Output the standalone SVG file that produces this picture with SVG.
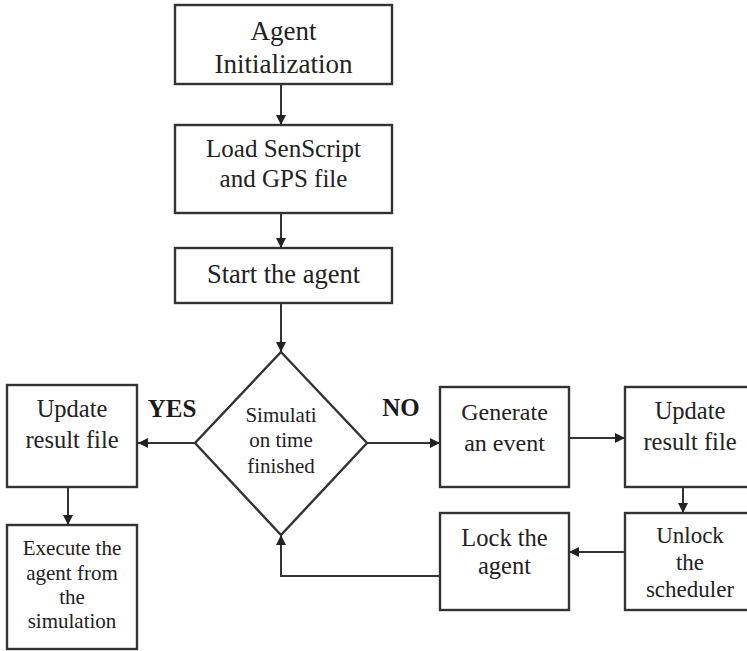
<svg xmlns="http://www.w3.org/2000/svg" width="747" height="651" viewBox="0 0 747 651">
  <style>
    .box { fill: #ffffff; stroke: #333333; stroke-width: 2.4; }
    .t { font-family: "Liberation Serif", "Times New Roman", serif; fill: #222222; text-anchor: middle; }
    .lbl { font-family: "Liberation Serif", "Times New Roman", serif; font-weight: bold; fill: #1a1a1a; font-size: 25px; text-anchor: middle; }
    .edge { fill: none; stroke: #333333; stroke-width: 2; }
  </style>
  <defs>
    <marker id="arrow" viewBox="0 0 10 10" refX="10" refY="5" markerWidth="10" markerHeight="10" markerUnits="userSpaceOnUse" orient="auto">
      <path d="M0,0 L10,5 L0,10 z" fill="#222222"/>
    </marker>
  </defs>
  <rect width="747" height="651" fill="#ffffff"/>

  <g id="agent-init">
    <rect class="box" x="175" y="5" width="217" height="79"/>
    <text class="t" x="283.5" y="40" font-size="27">Agent</text>
    <text class="t" x="283.5" y="73" font-size="27">Initialization</text>
  </g>

  <g id="load-script">
    <rect class="box" x="175" y="125" width="217" height="88"/>
    <text class="t" x="283.5" y="157" font-size="25">Load SenScript</text>
    <text class="t" x="283.5" y="187" font-size="25">and GPS file</text>
  </g>

  <g id="start-agent">
    <rect class="box" x="175" y="248" width="217" height="55"/>
    <text class="t" x="283.5" y="283" font-size="26.5">Start the agent</text>
  </g>

  <g id="sim-finished">
    <polygon class="box" points="281,352 367,443 281,535 195,443"/>
    <text class="t" x="281" y="422" font-size="21">Simulati</text>
    <text class="t" x="281" y="447" font-size="21">on time</text>
    <text class="t" x="281" y="473" font-size="21">finished</text>
  </g>

  <g id="update-left">
    <rect class="box" x="7" y="385" width="130" height="102"/>
    <text class="t" x="72" y="417" font-size="24.5">Update</text>
    <text class="t" x="72" y="448" font-size="24.5">result file</text>
  </g>

  <g id="execute-agent">
    <rect class="box" x="7" y="525" width="130" height="124"/>
    <text class="t" x="72" y="555" font-size="21">Execute the</text>
    <text class="t" x="72" y="580" font-size="21">agent from</text>
    <text class="t" x="72" y="604" font-size="21">the</text>
    <text class="t" x="72" y="628" font-size="21">simulation</text>
  </g>

  <g id="generate-event">
    <rect class="box" x="440" y="387" width="129" height="100"/>
    <text class="t" x="504.5" y="420" font-size="24">Generate</text>
    <text class="t" x="504.5" y="451" font-size="24">an event</text>
  </g>

  <g id="update-right">
    <rect class="box" x="625" y="387" width="132" height="100"/>
    <text class="t" x="690" y="419" font-size="24.5">Update</text>
    <text class="t" x="690" y="450" font-size="24.5">result file</text>
  </g>

  <g id="unlock-scheduler">
    <rect class="box" x="625" y="513" width="132" height="97"/>
    <text class="t" x="690" y="543" font-size="23">Unlock</text>
    <text class="t" x="690" y="570" font-size="23">the</text>
    <text class="t" x="690" y="597" font-size="23">scheduler</text>
  </g>

  <g id="lock-agent">
    <rect class="box" x="440" y="513" width="129" height="97"/>
    <text class="t" x="504.5" y="546" font-size="24.5">Lock the</text>
    <text class="t" x="504.5" y="574" font-size="24.5">agent</text>
  </g>

  <g id="connectors">
    <line class="edge" x1="281" y1="84" x2="281" y2="125" marker-end="url(#arrow)"/>
    <line class="edge" x1="281" y1="213" x2="281" y2="248" marker-end="url(#arrow)"/>
    <line class="edge" x1="281" y1="303" x2="281" y2="352" marker-end="url(#arrow)"/>
    <line class="edge" x1="195" y1="443" x2="138" y2="443" marker-end="url(#arrow)"/>
    <line class="edge" x1="367" y1="443" x2="440" y2="443" marker-end="url(#arrow)"/>
    <line class="edge" x1="569" y1="438" x2="625" y2="438" marker-end="url(#arrow)"/>
    <line class="edge" x1="683" y1="487" x2="683" y2="513" marker-end="url(#arrow)"/>
    <line class="edge" x1="625" y1="552" x2="569" y2="552" marker-end="url(#arrow)"/>
    <polyline class="edge" points="440,576 281,576 281,535" marker-end="url(#arrow)"/>
    <line class="edge" x1="68" y1="487" x2="68" y2="525" marker-end="url(#arrow)"/>
    <text class="lbl" x="172" y="417">YES</text>
    <text class="lbl" x="401" y="416">NO</text>
  </g>
</svg>
